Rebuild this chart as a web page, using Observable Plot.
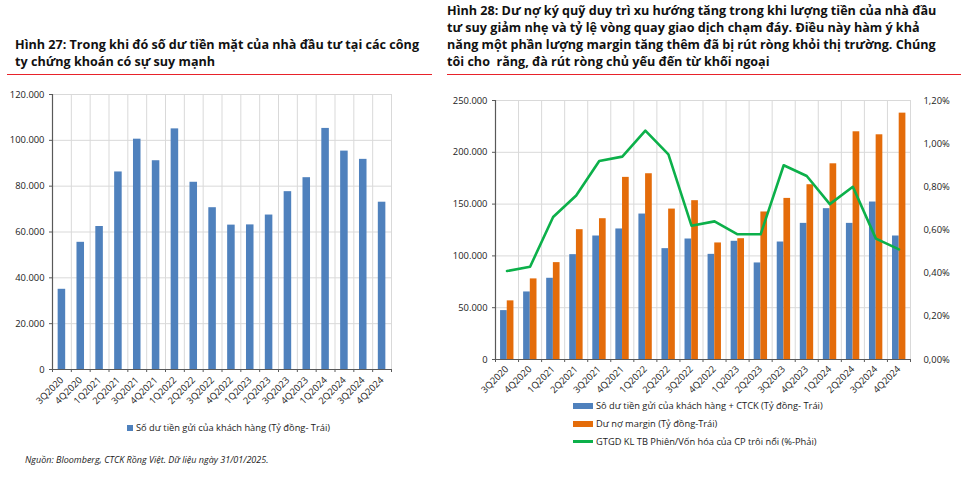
<!DOCTYPE html>
<html>
<head>
<meta charset="utf-8">
<script src="https://cdn.jsdelivr.net/npm/d3@7"></script>
<script src="https://cdn.jsdelivr.net/npm/@observablehq/plot@0.6"></script>
<style>
  html, body { margin: 0; padding: 0; background: #fff; }
  #root { position: relative; width: 968px; height: 485px; overflow: hidden; font-family: "Open Sans", "Noto Sans", sans-serif; color: #000; }
  .title { position: absolute; font-weight: 700; font-size: 12.6px; line-height: 17.3px; white-space: pre; color: #111; }
  .redline { position: absolute; height: 1.5px; background: #e8222a; }
  .chart { position: absolute; }
  .legend { position: absolute; font-size: 9.3px; color: #222; white-space: nowrap; display: flex; align-items: center; }
  .sw { display: inline-block; margin-right: 3px; }
  .note { position: absolute; font-size: 9px; font-style: italic; color: #222; white-space: nowrap; }
</style>
</head>
<body>
<div id="root">
  <div class="title" id="t1" style="left:15px; top:36px;"></div>
  <div class="redline" style="left:7px; top:73.5px; width:425px;"></div>
  <div class="title" id="t2" style="left:447px; top:1.5px;"></div>
  <div class="redline" style="left:447px; top:73.5px; width:514px;"></div>
  <div class="chart" id="c1" style="left:0px; top:84px;"></div>
  <div class="chart" id="c2" style="left:440px; top:84px;"></div>
  <div class="legend" id="l1" style="left:127px; top:421px;"></div>
  <div class="legend" id="l2a" style="left:573px; top:399px;"></div>
  <div class="legend" id="l2b" style="left:573px; top:417px;"></div>
  <div class="legend" id="l2c" style="left:573px; top:435px;"></div>
  <div class="note" id="note" style="left:25px; top:453px;"></div>
</div>
<script>
// ---- Data ----
const quarters = ["3Q2020","4Q2020","1Q2021","2Q2021","3Q2021","4Q2021","1Q2022","2Q2022","3Q2022","4Q2022","1Q2023","2Q2023","3Q2023","4Q2023","1Q2024","2Q2024","3Q2024","4Q2024"];
// Figure 27: customer cash balance (bn VND)
const cashBalance = [35000, 55500, 62400, 86200, 100500, 91100, 105000, 81700, 70600, 63000, 63100, 67400, 77600, 83700, 105200, 95300, 91700, 73000];
// Figure 28
const customerDeposits = [47200, 65200, 78400, 101200, 119200, 126000, 140400, 107000, 116300, 101500, 114100, 93200, 113400, 131400, 145600, 131400, 152000, 119200];
const marginDebt = [56600, 77800, 93500, 125300, 135900, 175800, 179300, 145200, 153300, 112500, 116600, 142400, 155500, 168700, 188900, 219800, 216900, 237800];
const turnoverPct = [0.41, 0.43, 0.66, 0.76, 0.92, 0.94, 1.06, 0.95, 0.62, 0.64, 0.58, 0.58, 0.90, 0.85, 0.72, 0.80, 0.56, 0.51];

const leftTicks = [0, 20000, 40000, 60000, 80000, 100000, 120000];
const rightTicks = [0, 50000, 100000, 150000, 200000, 250000];
const pctTicks = [0, 0.2, 0.4, 0.6, 0.8, 1.0, 1.2];

const title1 = ["Hình 27: Trong khi đó số dư tiền mặt của nhà đầu tư tại các công", "ty chứng khoán có sự suy mạnh"];
const title2 = ["Hình 28: Dư nợ ký quỹ duy trì xu hướng tăng trong khi lượng tiền của nhà đầu",
  "tư suy giảm nhẹ và tỷ lệ vòng quay giao dịch chạm đáy. Điều này hàm ý khả",
  "năng một phần lượng margin tăng thêm đã bị rút ròng khỏi thị trường. Chúng",
  "tôi cho  rằng, đà rút ròng chủ yếu đến từ khối ngoại"];
const legend1 = "Số dư tiền gửi của khách hàng (Tỷ đồng- Trái)";
const legend2 = ["Sô dư tiền gửi của khách hàng + CTCK (Tỷ đồng- Trái)", "Dư nợ margin (Tỷ đồng-Trái)", "GTGD KL TB Phiên/Vốn hóa của CP trôi nổi (%-Phải)"];
const source = "Nguồn: Bloomberg, CTCK Rồng Việt. Dữ liệu ngày 31/01/2025.";

const BLUE = "#4f81bd", ORANGE = "#e46c0a", GREEN = "#0cb04a", GRID = "#d9d9d9", AXIS = "#595959";

// ---- Text ----
function setLines(id, lines) {
  const el = document.getElementById(id);
  el.textContent = lines.join("\n");
}
setLines("t1", title1);
setLines("t2", title2);
document.getElementById("note").textContent = source;

function legendItem(id, text, kind, color) {
  const el = document.getElementById(id);
  const sw = document.createElement("span");
  sw.className = "sw";
  if (kind === "sq") { sw.style.cssText = `width:6px;height:6px;background:${color}`; }
  else if (kind === "bar") { sw.style.cssText = `width:20px;height:6px;background:${color}`; }
  else { sw.style.cssText = `width:20px;height:2.5px;background:${color}`; }
  el.appendChild(sw);
  const t = document.createElement("span"); t.textContent = text; el.appendChild(t);
}
legendItem("l1", legend1, "sq", BLUE);
legendItem("l2a", legend2[0], "bar", BLUE);
legendItem("l2b", legend2[1], "bar", ORANGE);
legendItem("l2c", legend2[2], "line", GREEN);

// ---- Formats ----
const viLocale = d3.formatLocale({decimal: ",", thousands: ".", grouping: [3], currency: ["", ""]});
const fmtNum = viLocale.format(",");
const fmtPct = p => p.toFixed(2).replace(".", ",") + "%";

const boundaries = d3.range(quarters.length + 1);
const centers = quarters.map((q, i) => i + 0.5);
const fontStyle = {fontFamily: "'Open Sans', 'Noto Sans', sans-serif", fontSize: "9.4px", color: "#222", background: "transparent", overflow: "visible"};

// ---- Left chart ----
const leftData = quarters.map((q, i) => ({i, q, v: cashBalance[i]}));
const chart1 = Plot.plot({
  width: 440, height: 330,
  marginTop: 10, marginBottom: 45, marginLeft: 52, marginRight: 49,
  style: fontStyle,
  x: {domain: [0, quarters.length], axis: null},
  y: {domain: [0, 120000], axis: null},
  marks: [
    Plot.gridY(leftTicks, {stroke: GRID, strokeOpacity: 1}),
    Plot.gridX(boundaries, {stroke: GRID, strokeOpacity: 1}),
    Plot.rectY(leftData, {x1: d => d.i + 0.3, x2: d => d.i + 0.7, y: "v", fill: BLUE}),
    Plot.axisY(leftTicks, {tickSize: 3, tickPadding: 5, tickFormat: fmtNum, label: null, stroke: AXIS}),
    Plot.axisX(boundaries, {tickSize: 3, tickFormat: () => "", label: null, stroke: AXIS}),
    Plot.axisX(centers, {tickSize: 0, tickPadding: 9, tickRotate: -45, tickFormat: x => quarters[Math.floor(x)], label: null}),
    Plot.ruleX([0], {stroke: AXIS, strokeWidth: 1.2}),
    Plot.ruleY([0], {stroke: AXIS, strokeWidth: 1.2})
  ]
});
document.getElementById("c1").appendChild(chart1);

// ---- Right chart ----
const yMax = 250000, pMax = 1.2;
const rightData = quarters.map((q, i) => ({i, q, dep: customerDeposits[i], mar: marginDebt[i], pct: turnoverPct[i]}));
const chart2 = Plot.plot({
  width: 528, height: 315,
  marginTop: 16, marginBottom: 40, marginLeft: 55, marginRight: 58,
  style: fontStyle,
  x: {domain: [0, quarters.length], axis: null},
  y: {domain: [0, yMax], axis: null},
  marks: [
    Plot.gridY(rightTicks, {stroke: GRID, strokeOpacity: 1}),
    Plot.gridX(boundaries, {stroke: GRID, strokeOpacity: 1}),
    Plot.rectY(rightData, {x1: d => d.i + 0.22, x2: d => d.i + 0.51, y: "dep", fill: BLUE}),
    Plot.rectY(rightData, {x1: d => d.i + 0.51, x2: d => d.i + 0.80, y: "mar", fill: ORANGE}),
    Plot.line(rightData, {x: d => d.i + 0.5, y: d => d.pct / pMax * yMax, stroke: GREEN, strokeWidth: 2.6, strokeLinejoin: "round"}),
    Plot.axisY(rightTicks, {tickSize: 3, tickPadding: 5, tickFormat: fmtNum, label: null, stroke: AXIS}),
    Plot.axisY(pctTicks.map(p => p / pMax * yMax), {anchor: "right", tickSize: 0, tickPadding: 13, tickFormat: v => fmtPct(v / yMax * pMax), label: null}),
    Plot.axisX(boundaries, {tickSize: 3, tickFormat: () => "", label: null, stroke: AXIS}),
    Plot.axisX(centers, {tickSize: 0, tickPadding: 8, tickRotate: -45, tickFormat: x => quarters[Math.floor(x)], label: null}),
    Plot.ruleX([0], {stroke: AXIS, strokeWidth: 1.2}),
    Plot.ruleY([0], {stroke: AXIS, strokeWidth: 1.2})
  ]
});
document.getElementById("c2").appendChild(chart2);
</script>
</body>
</html>
